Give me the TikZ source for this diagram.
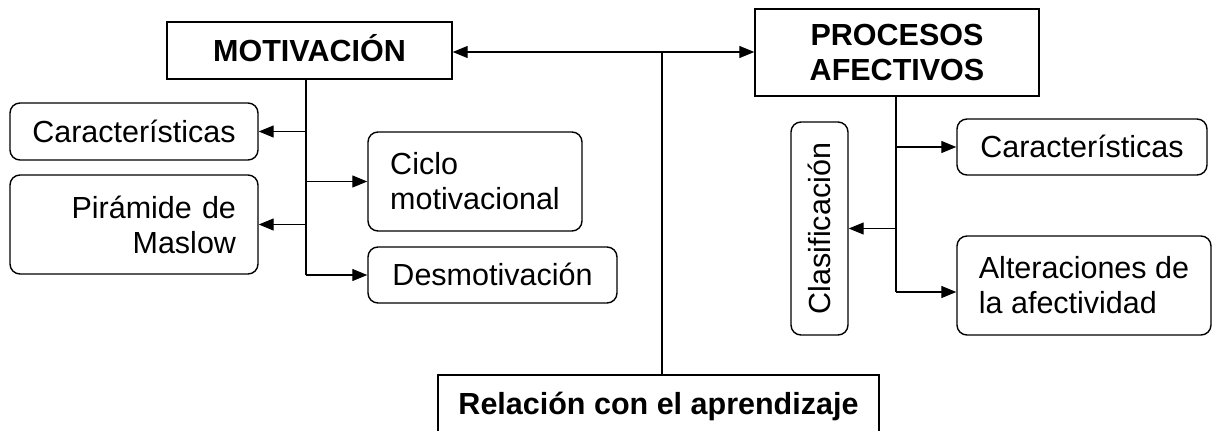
\documentclass[tikz,border=0pt]{standalone}
\usepackage{fontspec}
\setmainfont{Liberation Sans}
\usetikzlibrary{arrows.meta}
\newcommand\diafs{\fontsize{30.5bp}{35bp}\selectfont}
\begin{document}
\begin{tikzpicture}[x=1bp,y=-1bp,
  box/.style={draw, line width=1.4bp, inner sep=0pt, font=\diafs},
  hbox/.style={box, font=\diafs\bfseries},
  rbox/.style={box, rounded corners=10bp},
  one/.style={text height=21.5bp, text depth=0bp},
  link/.style={line width=1.2bp},
  tip/.style={-{Triangle[length=15bp,width=12bp]}},
  dtip/.style={{Triangle[length=15bp,width=12bp]}-{Triangle[length=15bp,width=12bp]}}]
\useasboundingbox (0,0) rectangle (1213,430);
\clip (0,0) rectangle (1213,430);
% header boxes
\node[hbox, one, minimum width=285bp, minimum height=57bp] (mot) at (309.5,50.5) {MOTIVACIÓN};
\node[hbox, minimum width=284bp, minimum height=87bp, align=center] (proc) at (897,52.5) {PROCESOS\\AFECTIVOS};
\node[hbox, one, minimum width=441bp, minimum height=58bp] (rel) at (658.5,404) {Relación con el aprendizaje};
% left side
\node[rbox, one, minimum width=248bp, minimum height=57bp] (car1) at (134,131.5) {Características};
\node[rbox, minimum width=248bp, minimum height=99bp, inner xsep=22bp, text width=204bp, align=right] (pir) at (134,224.5) {Pirámide de\\Maslow};
\node[rbox, minimum width=214bp, minimum height=99bp, align=left] (cic) at (475,181.5) {Ciclo\\motivacional};
\node[rbox, one, minimum width=249bp, minimum height=56bp] (des) at (492.5,275) {Desmotivación};
% right side
\node[rbox, one, rotate=90, minimum width=213bp, minimum height=57bp] (cla) at (819.5,228.5) {Clasificación};
\node[rbox, one, minimum width=250bp, minimum height=56bp] (car2) at (1082,147) {Características};
\node[rbox, minimum width=254bp, minimum height=99bp, align=left] (alt) at (1084,285.5) {Alteraciones de\\la afectividad};
% connectors
\coordinate (mtop) at (306,79);
\coordinate (mbot) at (306,275);
\draw[link] (mtop) -- (mbot);
\draw[link,tip] (mbot) -- (des.west);
\draw[link,tip] (mtop |- car1.east) -- (car1.east);
\draw[link,tip] (mtop |- pir.east) -- (pir.east);
\draw[link,tip] (mtop |- cic.west) -- (cic.west);
\coordinate (ptop) at (896,96);
\coordinate (pbot) at (896,292);
\draw[link] (ptop) -- (pbot);
\draw[link,tip] (pbot) -- (alt.west |- pbot);
\draw[link,tip] (ptop |- car2.west) -- (car2.west);
\draw[link,tip] (ptop |- cla.south) -- (cla.south);
\coordinate (hc) at (662,52);
\draw[link,dtip] (mot.east |- hc) -- (proc.west |- hc);
\draw[link] (hc) -- (hc |- rel.north);
\end{tikzpicture}
\end{document}
